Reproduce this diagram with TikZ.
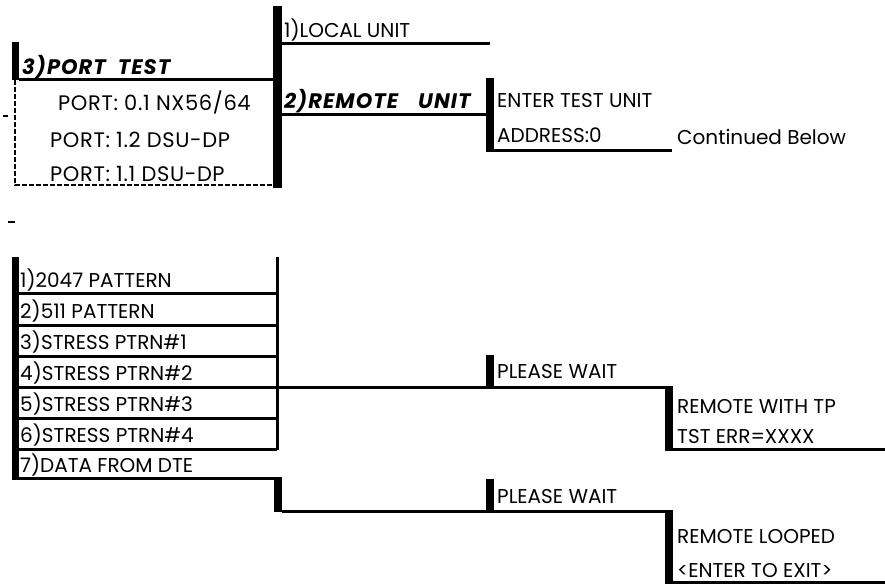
\documentclass[tikz,border=0pt]{standalone}
\usepackage{fontspec}
\setmainfont{Poppins}
\tikzset{
	menu/.style={anchor=base west, inner sep=0pt, font=\fontsize{20}{24}\selectfont},
	portline/.style={menu, font=\fontsize{21}{24}\selectfont\addfontfeature{LetterSpace=3}},
	menutitle/.style={menu, font=\fontsize{21}{24}\selectfont\bfseries\itshape\addfontfeature{LetterSpace=5}},
	rule/.style={line width=3pt},
	dotrule/.style={line width=2.6pt, dash pattern=on 5pt off 2pt}
}
\begin{document}
\begin{tikzpicture}[x=1pt, y=-1pt]
		%%%%% START %%%%%
		\useasboundingbox (0, 0) rectangle (885, 584);
		
		\fill (12, 42) rectangle (19, 80);
		\node[menutitle] (porttest) at (22, 74) {3)PORT\hspace{12pt}TEST};
		\draw[rule] (19, 79) -- (273, 79);
		\draw[dotrule] (15, 80) -- (15, 185) -- (273, 185);
		\draw[line width=2.5pt] (3, 116) -- (8, 116);
		\node[portline] (port01) at (58, 110) {PORT: 0.1 NX56/64};
		\node[portline] (port12) at (50, 147) {PORT: 1.2 DSU-DP};
		\node[portline] (port11) at (50, 181) {PORT: 1.1 DSU-DP};
		
		\fill (273, 6) rectangle (282, 188);
		\node[menu] (localunit) at (284, 37) {1)LOCAL UNIT};
		\draw[rule] (282, 43) -- (490, 43);
		\node[menutitle] (remoteunit) at (284, 108) {2)REMOTE\hspace{20pt}UNIT};
		\draw[rule] (282, 114) -- (486, 114);
		
		\fill (486, 78) rectangle (494, 152);
		\node[menu] (enterunit) at (497, 107) {ENTER TEST UNIT};
		\node[menu] (address) at (497, 142) {ADDRESS:0};
		\draw[rule] (494, 150) -- (672, 150);
		\node[menu] (continued) at (677, 144) {Continued Below};
		
		\draw[line width=2.5pt] (8, 222) -- (15, 222);
		
		\fill (12, 257) rectangle (19, 480);
		\draw[rule] (277, 257) -- (277, 450);
		\node[menu] (pat2047) at (20, 287) {1)2047 PATTERN};
		\draw[rule] (19, 293) -- (277, 293);
		\node[menu] (pat511) at (20, 318) {2)511 PATTERN};
		\draw[rule] (19, 325) -- (277, 325);
		\node[menu] (stress1) at (20, 349) {3)STRESS PTRN\#1};
		\draw[rule] (19, 356) -- (277, 356);
		\node[menu] (stress2) at (20, 380) {4)STRESS PTRN\#2};
		\draw[rule] (19, 387.5) -- (665, 387.5);
		\node[menu] (stress3) at (20, 411) {5)STRESS PTRN\#3};
		\draw[rule] (19, 418) -- (277, 418);
		\node[menu] (stress4) at (20, 442) {6)STRESS PTRN\#4};
		\draw[rule] (19, 449) -- (277, 449);
		\node[menu] (datadte) at (20, 472) {7)DATA FROM DTE};
		\draw[rule] (19, 478) -- (282, 478);
		
		\fill (486, 355) rectangle (494, 389);
		\node[menu] (wait1) at (497, 378) {PLEASE WAIT};
		\fill (665, 386) rectangle (673, 451);
		\node[menu] (remotetp) at (677, 413) {REMOTE WITH TP};
		\node[menu] (tsterr) at (677, 443) {TST ERR=XXXX};
		\draw[rule] (673, 449.5) -- (885, 449.5);
		
		\fill (274, 477) rectangle (282, 512);
		\draw[rule] (282, 511) -- (665, 511);
		\fill (486, 479) rectangle (494, 512);
		\node[menu] (wait2) at (497, 503) {PLEASE WAIT};
		\fill (665, 510) rectangle (673, 584);
		\node[menu] (looped) at (677, 543) {REMOTE LOOPED};
		\node[menu] (enterexit) at (677, 577) {<ENTER TO EXIT>};
		\draw[rule] (673, 582) -- (885, 582);
		%%%%% END %%%%%
	\end{tikzpicture}
\end{document}
